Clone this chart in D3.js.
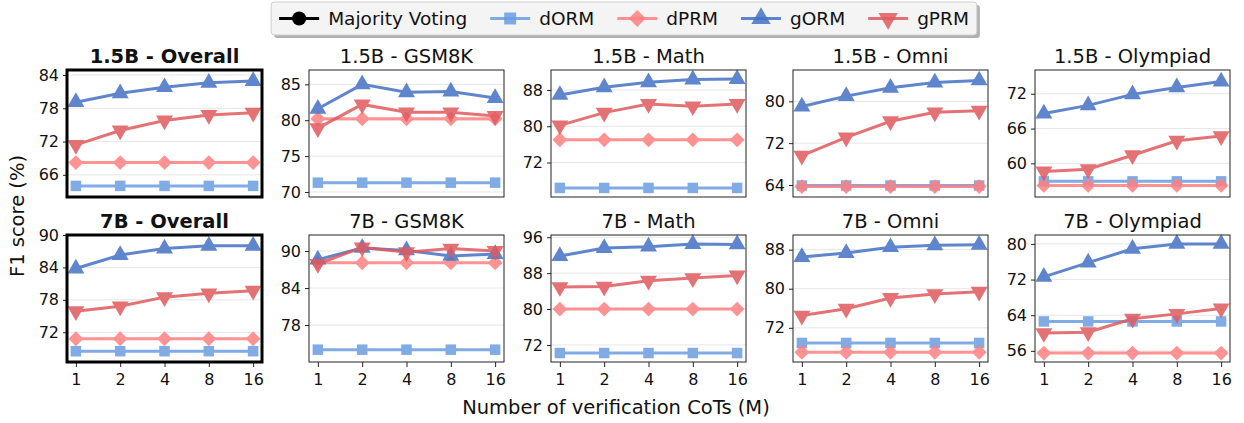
<!DOCTYPE html>
<html lang="en">
<head>
  <meta charset="UTF-8">
  <title>F1 score vs number of verification CoTs</title>
  <script src="https://d3js.org/d3.v7.min.js"></script>
  <style>
    body { margin: 0; background: #fff; font-family: "DejaVu Sans", sans-serif; }
    svg { display: block; }
  </style>
</head>
<body>
  <svg id="chart" width="1244" height="423"></svg>

  <script>
    // data
    const mLabels = ['1', '2', '4', '8', '16'];
    const models = ['1.5B', '7B'];
    const datasets = ['Overall', 'GSM8K', 'Math', 'Omni', 'Olympiad'];
    const seriesNames = ['Majority Voting', 'dORM', 'dPRM', 'gORM', 'gPRM'];

    // [model][dataset] -> values at M = 1,2,4,8,16
    const dORM = [
      [[64.0, 64.0, 64.0, 64.0, 64.0], [71.3, 71.3, 71.3, 71.3, 71.3], [66.4, 66.4, 66.4, 66.4, 66.4], [63.9, 63.9, 63.9, 63.9, 63.9], [56.9, 56.9, 56.9, 56.9, 56.9]],
      [[68.5, 68.5, 68.5, 68.5, 68.5], [74.0, 74.0, 74.0, 74.0, 74.0], [70.2, 70.2, 70.2, 70.2, 70.2], [68.9, 68.9, 68.9, 68.9, 68.9], [62.6, 62.6, 62.6, 62.6, 62.6]]
    ];
    const dPRM = [
      [[68.2, 68.2, 68.2, 68.2, 68.2], [80.2, 80.2, 80.2, 80.2, 80.2], [77.0, 77.0, 77.0, 77.0, 77.0], [63.7, 63.7, 63.7, 63.7, 63.7], [56.2, 56.2, 56.2, 56.2, 56.2]],
      [[70.8, 70.8, 70.8, 70.8, 70.8], [88.1, 88.1, 88.1, 88.1, 88.1], [80.0, 80.0, 80.0, 80.0, 80.0], [67.0, 67.0, 67.0, 67.0, 67.0], [55.5, 55.5, 55.5, 55.5, 55.5]]
    ];
    const gORM = [
      [[79.1, 80.7, 81.8, 82.6, 82.9], [81.6, 85.0, 83.9, 84.0, 83.1], [86.9, 88.6, 89.7, 90.3, 90.4], [79.0, 81.0, 82.6, 83.6, 84.0], [68.6, 70.0, 71.9, 73.1, 74.1]],
      [[83.8, 86.3, 87.5, 88.0, 88.0], [88.6, 90.5, 90.1, 89.2, 89.5], [91.8, 93.6, 93.9, 94.5, 94.4], [86.5, 87.3, 88.5, 88.9, 89.0], [72.6, 75.8, 78.9, 80.0, 80.0]]
    ];
    const gPRM = [
      [[71.4, 74.0, 75.8, 76.8, 77.2], [78.9, 82.2, 81.1, 81.1, 80.6], [80.2, 83.0, 84.9, 84.4, 84.9], [69.6, 73.1, 76.2, 77.9, 78.2], [58.6, 59.0, 61.4, 63.9, 64.7]],
      [[75.9, 76.8, 78.5, 79.2, 79.7], [87.9, 90.6, 89.8, 90.4, 90.0], [84.9, 85.0, 86.3, 86.9, 87.5], [74.5, 75.9, 78.1, 78.9, 79.4], [60.0, 60.2, 63.2, 64.3, 65.5]]
    ];

    const yTicks = [
      [[66, 72, 78, 84], [70, 75, 80, 85], [72, 80, 88], [64, 72, 80], [60, 66, 72]],
      [[72, 78, 84, 90], [78, 84, 90], [72, 80, 88, 96], [72, 80, 88], [56, 64, 72, 80]]
    ];

    // styles
    const colors = {
      'Majority Voting': '#000000',
      dORM: '#6a9de0',
      dPRM: '#ff7f7f',
      gORM: '#4472c4',
      gPRM: '#e05a5e'
    };
    const markers = {
      'Majority Voting': { type: d3.symbolCircle, size: 120, rotate: 0 },
      dORM: { type: d3.symbolSquare, size: 110, rotate: 0 },
      dPRM: { type: d3.symbolSquare, size: 110, rotate: 45 },
      gORM: { type: d3.symbolTriangle, size: 125, rotate: 0 },
      gPRM: { type: d3.symbolTriangle, size: 125, rotate: 180 }
    };
    const seriesData = { dORM, dPRM, gORM, gPRM };
    const plotted = ['dORM', 'dPRM', 'gORM', 'gPRM'];

    const svg = d3.select('#chart');
    const panel = { left: 67, top: 70, w: 195, h: 127, dx: 242, dy: 165 };

    models.forEach((model, r) => {
      datasets.forEach((ds, c) => {
        const x0 = panel.left + c * panel.dx;
        const y0 = panel.top + r * panel.dy;
        const g = svg.append('g').attr('transform', `translate(${x0},${y0})`);
        const isOverall = ds === 'Overall';

        const all = plotted.flatMap(s => seriesData[s][r][c]);
        const yScale = d3.scaleLinear()
          .domain([d3.min(all) - 2, d3.max(all) + 2])
          .range([panel.h, 0]);
        const xScale = d3.scalePoint()
          .domain(mLabels)
          .range([0, panel.w])
          .padding(0.2);

        // grid
        g.append('g')
          .selectAll('line')
          .data(yTicks[r][c])
          .join('line')
          .attr('x1', 0).attr('x2', panel.w)
          .attr('y1', d => yScale(d)).attr('y2', d => yScale(d))
          .attr('stroke', '#e6e6e6')
          .attr('stroke-width', 1);

        // y axis
        const yAxis = g.append('g')
          .call(d3.axisLeft(yScale).tickValues(yTicks[r][c]).tickSize(4).tickPadding(4));
        yAxis.select('.domain').remove();
        yAxis.selectAll('line').attr('stroke', '#222');
        yAxis.selectAll('text')
          .attr('font-size', 16)
          .attr('font-family', '"DejaVu Sans", sans-serif')
          .attr('fill', '#111');

        // x axis only on bottom row
        if (r === models.length - 1) {
          const xAxis = g.append('g')
            .attr('transform', `translate(0,${panel.h})`)
            .call(d3.axisBottom(xScale).tickSize(5).tickPadding(7));
          xAxis.select('.domain').remove();
          xAxis.selectAll('line').attr('stroke', '#222');
          xAxis.selectAll('text')
            .attr('font-size', 16)
            .attr('font-family', '"DejaVu Sans", sans-serif')
            .attr('fill', '#111');
        }

        // series
        const line = d3.line()
          .x((d, i) => xScale(mLabels[i]))
          .y(d => yScale(d));

        plotted.forEach(name => {
          const vals = seriesData[name][r][c];
          const sg = g.append('g').attr('opacity', 0.85);
          sg.append('path')
            .attr('d', line(vals))
            .attr('fill', 'none')
            .attr('stroke', colors[name])
            .attr('stroke-width', 3);
          const mk = markers[name];
          sg.selectAll('path.mk')
            .data(vals)
            .join('path')
            .attr('class', 'mk')
            .attr('d', d3.symbol().type(mk.type).size(mk.size))
            .attr('transform', (d, i) => `translate(${xScale(mLabels[i])},${yScale(d)}) rotate(${mk.rotate})`)
            .attr('fill', colors[name]);
        });

        // frame
        g.append('rect')
          .attr('x', 0).attr('y', 0)
          .attr('width', panel.w).attr('height', panel.h)
          .attr('fill', 'none')
          .attr('stroke', isOverall ? '#000' : '#222')
          .attr('stroke-width', isOverall ? 3 : 1);

        // title
        g.append('text')
          .attr('x', panel.w / 2)
          .attr('y', -7)
          .attr('text-anchor', 'middle')
          .attr('font-size', 19.5)
          .attr('font-weight', isOverall ? 'bold' : 'normal')
          .attr('fill', '#111')
          .text(`${model} - ${ds}`);
      });
    });

    // axis labels
    svg.append('text')
      .attr('transform', `translate(24,${panel.top + (panel.dy + panel.h) / 2}) rotate(-90)`)
      .attr('text-anchor', 'middle')
      .attr('font-size', 19.5)
      .attr('fill', '#111')
      .text('F1 score (%)');

    svg.append('text')
      .attr('x', 616)
      .attr('y', 414)
      .attr('text-anchor', 'middle')
      .attr('font-size', 19.5)
      .attr('fill', '#111')
      .text('Number of verification CoTs (M)');

    // legend
    const legend = svg.append('g');
    const handleW = 40, gapText = 9, gapItem = 23, padX = 8;
    let cursor = 0;
    const items = legend.append('g');
    seriesNames.forEach(name => {
      const it = items.append('g').attr('transform', `translate(${cursor},0)`);
      it.append('line')
        .attr('x1', 0).attr('x2', handleW)
        .attr('y1', 0).attr('y2', 0)
        .attr('stroke', colors[name])
        .attr('stroke-width', 3)
        .attr('opacity', name === 'Majority Voting' ? 1 : 0.85);
      const mk = markers[name];
      it.append('path')
        .attr('d', d3.symbol().type(mk.type).size(mk.size * 1.3))
        .attr('transform', `translate(${handleW / 2},0) rotate(${mk.rotate})`)
        .attr('fill', colors[name])
        .attr('opacity', name === 'Majority Voting' ? 1 : 0.85);
      const t = it.append('text')
        .attr('x', handleW + gapText)
        .attr('y', 6.5)
        .attr('font-size', 18.5)
        .attr('fill', '#111')
        .text(name);
      cursor += handleW + gapText + t.node().getComputedTextLength() + gapItem;
    });
    const totalW = cursor - gapItem + padX * 2;
    const boxX = 624 - totalW / 2, boxY = 2, boxH = 33;
    legend.insert('rect', ':first-child')
      .attr('x', boxX + 3).attr('y', boxY + 3)
      .attr('width', totalW).attr('height', boxH)
      .attr('rx', 3)
      .attr('fill', '#b0b0b0');
    legend.insert('rect', 'g')
      .attr('x', boxX).attr('y', boxY)
      .attr('width', totalW).attr('height', boxH)
      .attr('rx', 3)
      .attr('fill', '#f4f4f4')
      .attr('stroke', '#cfcfcf');
    items.attr('transform', `translate(${boxX + padX},${boxY + boxH / 2})`);
  </script>
</body>
</html>
